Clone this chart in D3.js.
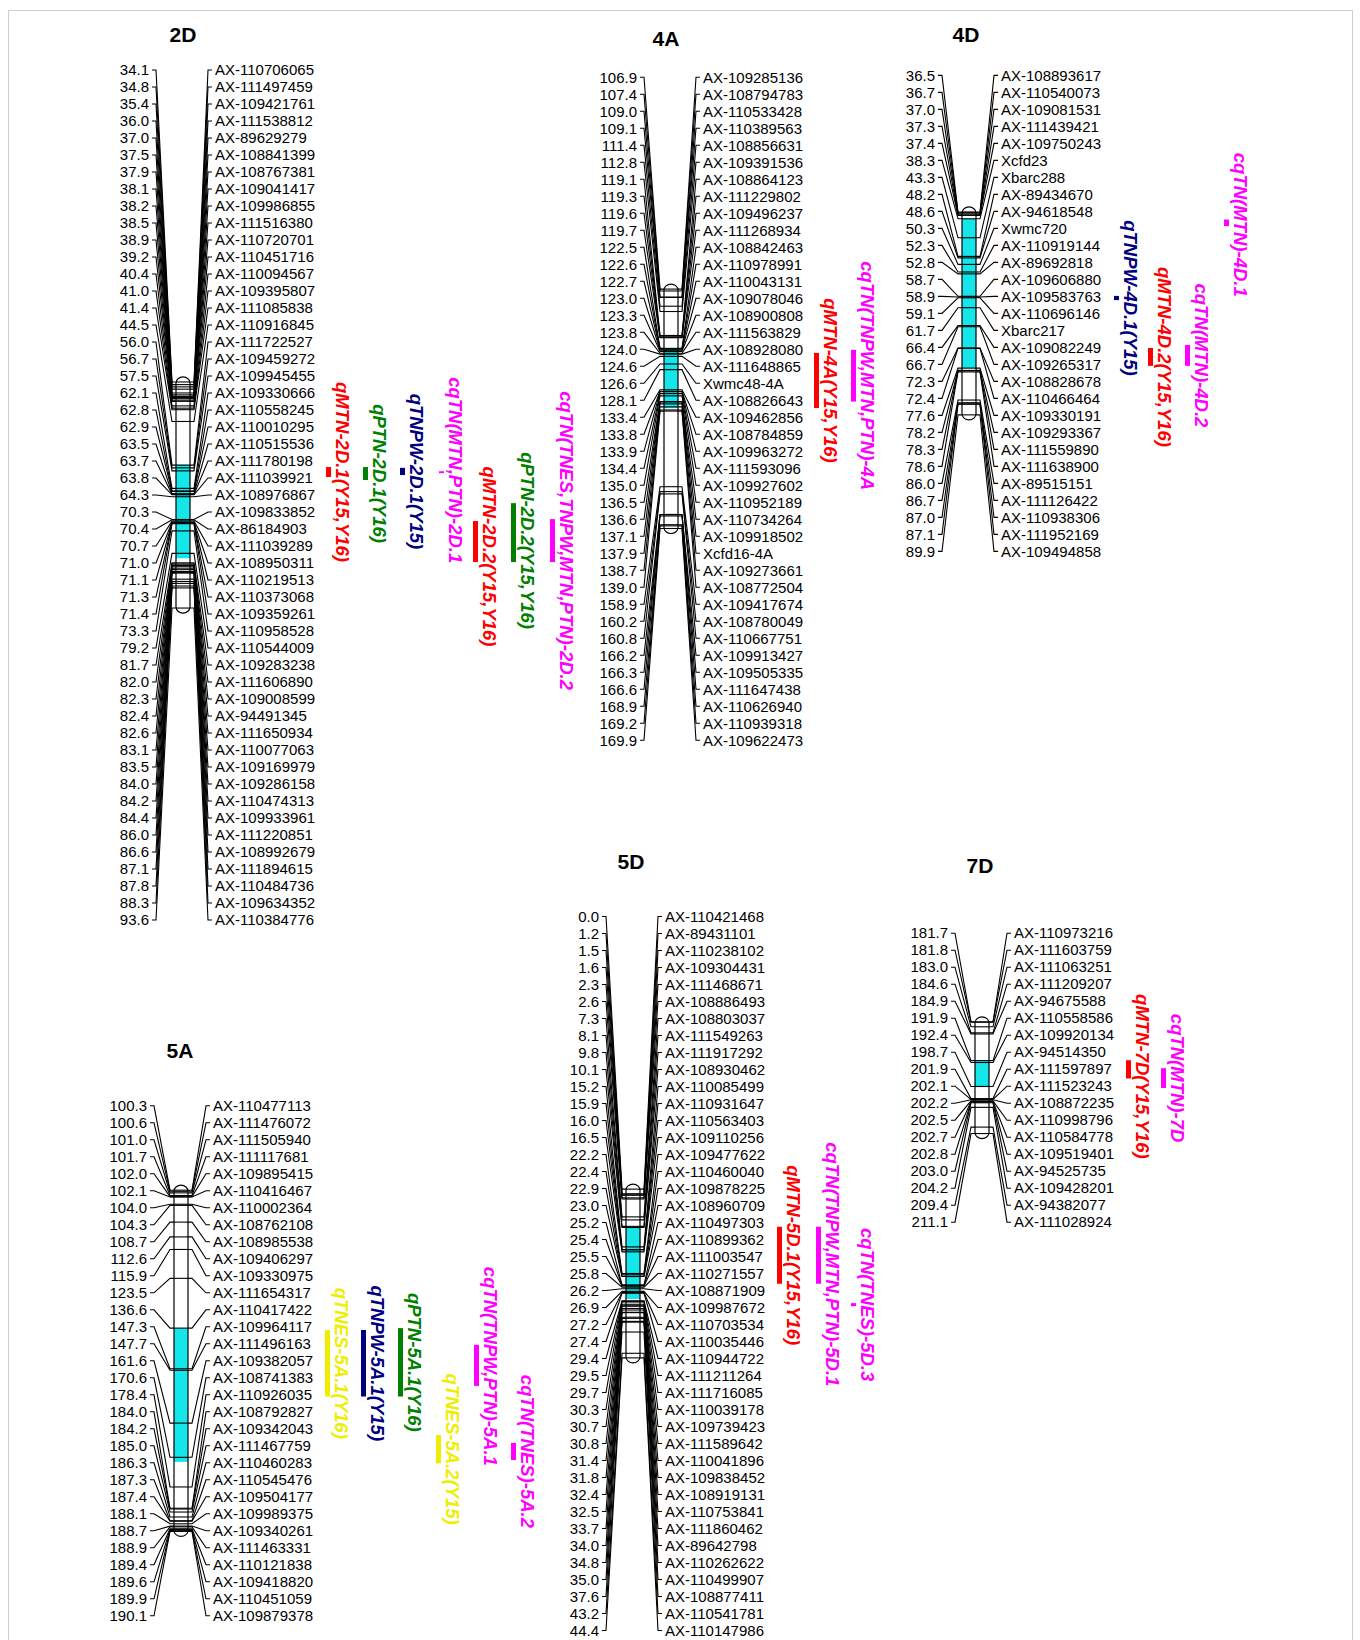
<!DOCTYPE html>
<html>
<head>
<meta charset="utf-8">
<script src="https://cdn.jsdelivr.net/npm/d3@7"></script>
<style>
body { margin: 0; background: #fff; }
svg text { font-family: "Liberation Sans", Arial, sans-serif; }
</style>
</head>
<body>
<div id="chart"></div>
<script>
// ---- map data (cM positions and marker names per chromosome) ----
var pos2D = [34.1,34.8,35.4,36.0,37.0,37.5,37.9,38.1,38.2,38.5,38.9,39.2,40.4,41.0,41.4,44.5,56.0,56.7,57.5,62.1,62.8,62.9,63.5,63.7,63.8,64.3,70.3,70.4,70.7,71.0,71.1,71.3,71.4,73.3,79.2,81.7,82.0,82.3,82.4,82.6,83.1,83.5,84.0,84.2,84.4,86.0,86.6,87.1,87.8,88.3,93.6];
var names2D = ["AX-110706065","AX-111497459","AX-109421761","AX-111538812","AX-89629279","AX-108841399","AX-108767381","AX-109041417","AX-109986855","AX-111516380","AX-110720701","AX-110451716","AX-110094567","AX-109395807","AX-111085838","AX-110916845","AX-111722527","AX-109459272","AX-109945455","AX-109330666","AX-110558245","AX-110010295","AX-110515536","AX-111780198","AX-111039921","AX-108976867","AX-109833852","AX-86184903","AX-111039289","AX-108950311","AX-110219513","AX-110373068","AX-109359261","AX-110958528","AX-110544009","AX-109283238","AX-111606890","AX-109008599","AX-94491345","AX-111650934","AX-110077063","AX-109169979","AX-109286158","AX-110474313","AX-109933961","AX-111220851","AX-108992679","AX-111894615","AX-110484736","AX-109634352","AX-110384776"];

var pos4A = [106.9,107.4,109.0,109.1,111.4,112.8,119.1,119.3,119.6,119.7,122.5,122.6,122.7,123.0,123.3,123.8,124.0,124.6,126.6,128.1,133.4,133.8,133.9,134.4,135.0,136.5,136.6,137.1,137.9,138.7,139.0,158.9,160.2,160.8,166.2,166.3,166.6,168.9,169.2,169.9];
var names4A = ["AX-109285136","AX-108794783","AX-110533428","AX-110389563","AX-108856631","AX-109391536","AX-108864123","AX-111229802","AX-109496237","AX-111268934","AX-108842463","AX-110978991","AX-110043131","AX-109078046","AX-108900808","AX-111563829","AX-108928080","AX-111648865","Xwmc48-4A","AX-108826643","AX-109462856","AX-108784859","AX-109963272","AX-111593096","AX-109927602","AX-110952189","AX-110734264","AX-109918502","Xcfd16-4A","AX-109273661","AX-108772504","AX-109417674","AX-108780049","AX-110667751","AX-109913427","AX-109505335","AX-111647438","AX-110626940","AX-110939318","AX-109622473"];

var pos4D = [36.5,36.7,37.0,37.3,37.4,38.3,43.3,48.2,48.6,50.3,52.3,52.8,58.7,58.9,59.1,61.7,66.4,66.7,72.3,72.4,77.6,78.2,78.3,78.6,86.0,86.7,87.0,87.1,89.9];
var names4D = ["AX-108893617","AX-110540073","AX-109081531","AX-111439421","AX-109750243","Xcfd23","Xbarc288","AX-89434670","AX-94618548","Xwmc720","AX-110919144","AX-89692818","AX-109606880","AX-109583763","AX-110696146","Xbarc217","AX-109082249","AX-109265317","AX-108828678","AX-110466464","AX-109330191","AX-109293367","AX-111559890","AX-111638900","AX-89515151","AX-111126422","AX-110938306","AX-111952169","AX-109494858"];

var pos5A = [100.3,100.6,101.0,101.7,102.0,102.1,104.0,104.3,108.7,112.6,115.9,123.5,136.6,147.3,147.7,161.6,170.6,178.4,184.0,184.2,185.0,186.3,187.3,187.4,188.1,188.7,188.9,189.4,189.6,189.9,190.1];
var names5A = ["AX-110477113","AX-111476072","AX-111505940","AX-111117681","AX-109895415","AX-110416467","AX-110002364","AX-108762108","AX-108985538","AX-109406297","AX-109330975","AX-111654317","AX-110417422","AX-109964117","AX-111496163","AX-109382057","AX-108741383","AX-110926035","AX-108792827","AX-109342043","AX-111467759","AX-110460283","AX-110545476","AX-109504177","AX-109989375","AX-109340261","AX-111463331","AX-110121838","AX-109418820","AX-110451059","AX-109879378"];

var pos5D = [0.0,1.2,1.5,1.6,2.3,2.6,7.3,8.1,9.8,10.1,15.2,15.9,16.0,16.5,22.2,22.4,22.9,23.0,25.2,25.4,25.5,25.8,26.2,26.9,27.2,27.4,29.4,29.5,29.7,30.3,30.7,30.8,31.4,31.8,32.4,32.5,33.7,34.0,34.8,35.0,37.6,43.2,44.4];
var names5D = ["AX-110421468","AX-89431101","AX-110238102","AX-109304431","AX-111468671","AX-108886493","AX-108803037","AX-111549263","AX-111917292","AX-108930462","AX-110085499","AX-110931647","AX-110563403","AX-109110256","AX-109477622","AX-110460040","AX-109878225","AX-108960709","AX-110497303","AX-110899362","AX-111003547","AX-110271557","AX-108871909","AX-109987672","AX-110703534","AX-110035446","AX-110944722","AX-111211264","AX-111716085","AX-110039178","AX-109739423","AX-111589642","AX-110041896","AX-109838452","AX-108919131","AX-110753841","AX-111860462","AX-89642798","AX-110262622","AX-110499907","AX-108877411","AX-110541781","AX-110147986"];

var pos7D = [181.7,181.8,183.0,184.6,184.9,191.9,192.4,198.7,201.9,202.1,202.2,202.5,202.7,202.8,203.0,204.2,209.4,211.1];
var names7D = ["AX-110973216","AX-111603759","AX-111063251","AX-111209207","AX-94675588","AX-110558586","AX-109920134","AX-94514350","AX-111597897","AX-111523243","AX-108872235","AX-110998796","AX-110584778","AX-109519401","AX-94525735","AX-109428201","AX-94382077","AX-111028924"];

// shaded (cyan) interval on each chromosome, cM
var shadeChrom = ["2D","4A","4D","5A","5D","7D"];
var shadeStart = [55.8,122.4,38.3,136.6,9.9,191.8];
var shadeEnd   = [80.5,138.2,77.6,171.8,28.9,198.9];

// QTL intervals, cM
var qtlNames = ["qMTN-2D.1(Y15,Y16)","qPTN-2D.1(Y16)","qTNPW-2D.1(Y15)","cqTN(MTN,PTN)-2D.1",
    "qMTN-2D.2(Y15,Y16)","qPTN-2D.2(Y15,Y16)","cqTN(TNES,TNPW,MTN,PTN)-2D.2",
    "qMTN-4A(Y15,Y16)","cqTN(TNPW,MTN,PTN)-4A",
    "qTNPW-4D.1(Y15)","qMTN-4D.2(Y15,Y16)","cqTN(MTN)-4D.1","cqTN(MTN)-4D.2",
    "qTNES-5A.1(Y16)","qTNPW-5A.1(Y15)","qPTN-5A.1(Y16)","cqTN(TNPW,PTN)-5A.1","qTNES-5A.2(Y15)","cqTN(TNES)-5A.2",
    "qMTN-5D.1(Y15,Y16)","cqTN(TNPW,MTN,PTN)-5D.1","cqTN(TNES)-5D.3",
    "qMTN-7D(Y15,Y16)","cqTN(MTN)-7D"];
var qtlChrom = ["2D","2D","2D","2D","2D","2D","2D","4A","4A","4D","4D","4D","4D",
    "5A","5A","5A","5A","5A","5A","5D","5D","5D","7D","7D"];
var qtlStart = [56.5,56.5,56.7,57.6,70.7,66.0,70.2,123.7,122.9,58.6,72.3,38.5,71.5,
    137.1,137.1,136.6,141.0,164.7,166.8,9.9,9.9,30.0,191.8,193.9];
var qtlEnd   = [59.1,59.9,58.6,58.1,81.5,81.5,81.5,138.2,136.5,59.7,77.0,40.2,77.0,
    154.6,154.6,154.6,151.8,172.2,171.3,24.9,24.9,30.8,196.6,199.1];

// ---- layout ----
var STEP = 17;          // label spacing
var PX_PER_CM = 3.8;
var BAR_W = 14;
var layout = {
    "2D": {bar: 176, top: 70,    tx: 183, ty: 42},
    "4A": {bar: 664, top: 77.3,  tx: 666, ty: 46},
    "4D": {bar: 962, top: 75.4,  tx: 966, ty: 42},
    "5A": {bar: 174, top: 1105.8, tx: 180, ty: 1058},
    "5D": {bar: 626, top: 916.5, tx: 631, ty: 869},
    "7D": {bar: 975, top: 933.2, tx: 980, ty: 873}
};
// text centre x of each QTL label, and a small vertical nudge
var qtlX = [342,379,416,455,489,527,566,830,867,1130,1164,1240,1201,341,377,414,490,452,527,793,832,867,1142,1177];
var qtlNudge = [0,0,0,-2,15,8,0,0,0,0,0,2,0,0,0,0,1,0,0,0,9,0,7,0];

var chroms = [
    {id: "2D", pos: pos2D, names: names2D},
    {id: "4A", pos: pos4A, names: names4A},
    {id: "4D", pos: pos4D, names: names4D},
    {id: "5A", pos: pos5A, names: names5A},
    {id: "5D", pos: pos5D, names: names5D},
    {id: "7D", pos: pos7D, names: names7D}
];

var svg = d3.select('#chart')
    .append('svg')
    .attr('width', 1360)
    .attr('height', 1640);

svg.append('rect')
    .attr('x', 8.5).attr('y', 10.5)
    .attr('width', 1344).attr('height', 1640)
    .attr('fill', 'none')
    .attr('stroke', '#cfcfcf');

var scales = {};

chroms.forEach(draw_chrom);
draw_qtls();

function draw_chrom(c){
    var L = layout[c.id];
    var n = c.pos.length;
    var labelY = d3.scaleLinear().domain([0, n - 1]).range([L.top, L.top + STEP * (n - 1)]);
    var mid = L.top + STEP * (n - 1) / 2;
    var ext = d3.extent(c.pos);
    var half = (ext[1] - ext[0]) * PX_PER_CM / 2;
    var y = d3.scaleLinear().domain(ext).range([mid - half, mid + half]);
    scales[c.id] = y;

    var x0 = L.bar, x1 = L.bar + BAR_W;
    var textL = x0 - 27, textR = x1 + 25;
    var g = svg.append('g').attr('id', 'chr' + c.id);

    var data = c.pos.map(function(p, i){
        return {cm: p, name: c.names[i], i: i};
    });

    g.append('text')
        .attr('x', L.tx).attr('y', L.ty)
        .attr('text-anchor', 'middle')
        .attr('font-size', 21)
        .attr('font-weight', 'bold')
        .text(c.id);

    // chromosome body
    g.append('rect')
        .attr('x', x0).attr('y', y.range()[0] - 5)
        .attr('width', BAR_W).attr('height', half * 2 + 10)
        .attr('rx', 7).attr('ry', 6)
        .attr('fill', '#fff');

    var k = shadeChrom.indexOf(c.id);
    if (k >= 0) {
        g.append('rect')
            .attr('x', x0).attr('y', y(shadeStart[k]))
            .attr('width', BAR_W).attr('height', y(shadeEnd[k]) - y(shadeStart[k]))
            .attr('fill', '#14e6ea');
    }

    g.selectAll('line.mk')
        .data(data)
        .enter()
        .append('line')
        .attr('class', 'mk')
        .attr('x1', x0).attr('x2', x1)
        .attr('y1', function(d){ return y(d.cm); })
        .attr('y2', function(d){ return y(d.cm); })
        .attr('stroke', '#000')
        .attr('stroke-width', 1.1);

    g.append('rect')
        .attr('x', x0).attr('y', y.range()[0] - 5)
        .attr('width', BAR_W).attr('height', half * 2 + 10)
        .attr('rx', 7).attr('ry', 6)
        .attr('fill', 'none')
        .attr('stroke', '#000')
        .attr('stroke-width', 1.2);

    // connectors
    g.selectAll('path.cl')
        .data(data)
        .enter()
        .append('path')
        .attr('class', 'cl')
        .attr('d', function(d){
            var yl = labelY(d.i), ym = y(d.cm);
            return 'M' + (textL + 3) + ',' + yl + 'H' + (textL + 7) +
                'L' + (x0 - 4) + ',' + ym + 'H' + x0;
        })
        .attr('fill', 'none')
        .attr('stroke', '#000')
        .attr('stroke-width', 1.1);

    g.selectAll('path.cr')
        .data(data)
        .enter()
        .append('path')
        .attr('class', 'cr')
        .attr('d', function(d){
            var yl = labelY(d.i), ym = y(d.cm);
            return 'M' + x1 + ',' + ym + 'H' + (x1 + 4) +
                'L' + (textR - 7) + ',' + yl + 'H' + (textR - 3);
        })
        .attr('fill', 'none')
        .attr('stroke', '#000')
        .attr('stroke-width', 1.1);

    g.selectAll('text.cm')
        .data(data)
        .enter()
        .append('text')
        .attr('class', 'cm')
        .attr('x', textL)
        .attr('y', function(d){ return labelY(d.i); })
        .attr('dy', '0.35em')
        .attr('text-anchor', 'end')
        .attr('font-size', 15)
        .text(function(d){ return d.cm.toFixed(1); });

    g.selectAll('text.nm')
        .data(data)
        .enter()
        .append('text')
        .attr('class', 'nm')
        .attr('x', textR)
        .attr('y', function(d){ return labelY(d.i); })
        .attr('dy', '0.35em')
        .attr('font-size', 15)
        .text(function(d){ return d.name; });
}

function qtl_color(name){
    if (name.indexOf('cqTN') === 0) return '#ff00ff';
    if (name.indexOf('qMTN') === 0) return '#ff0000';
    if (name.indexOf('qPTN') === 0) return '#008000';
    if (name.indexOf('qTNPW') === 0) return '#000080';
    return '#eeee00';
}

function draw_qtls(){
    var qtls = qtlNames.map(function(nm, i){
        return {name: nm, chrom: qtlChrom[i], s: qtlStart[i], e: qtlEnd[i], x: qtlX[i], nudge: qtlNudge[i]};
    });
    var g = svg.append('g').attr('id', 'qtls');

    g.selectAll('rect')
        .data(qtls)
        .enter()
        .append('rect')
        .attr('x', function(d){ return d.x - 16; })
        .attr('y', function(d){ return scales[d.chrom](d.s); })
        .attr('width', 5)
        .attr('height', function(d){ return scales[d.chrom](d.e) - scales[d.chrom](d.s); })
        .attr('fill', function(d){ return qtl_color(d.name); });

    g.selectAll('text')
        .data(qtls)
        .enter()
        .append('text')
        .attr('transform', function(d){
            var yc = (scales[d.chrom](d.s) + scales[d.chrom](d.e)) / 2 + d.nudge;
            return 'translate(' + d.x + ',' + yc + ') rotate(90)';
        })
        .attr('dy', '0.35em')
        .attr('text-anchor', 'middle')
        .attr('font-size', 18.5)
        .attr('font-weight', 'bold')
        .attr('font-style', 'italic')
        .attr('fill', function(d){ return qtl_color(d.name); })
        .text(function(d){ return d.name; });
}
</script>
</body>
</html>
